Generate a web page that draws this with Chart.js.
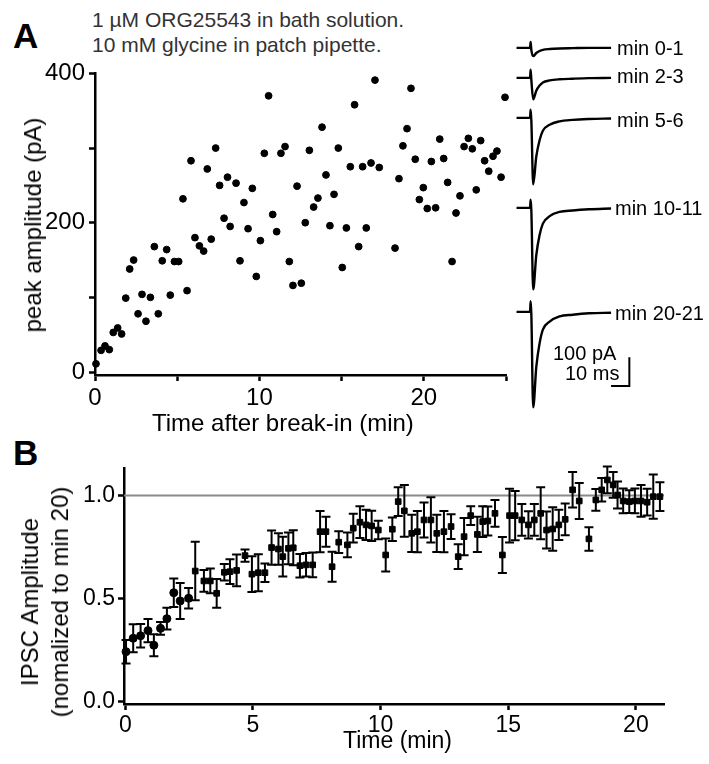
<!DOCTYPE html>
<html>
<head>
<meta charset="utf-8">
<script src="https://cdn.jsdelivr.net/npm/chart.js@4.4.0/dist/chart.umd.min.js"></script>
<style>
  body { margin: 0; background: #fff; }
  #fig { position: relative; width: 709px; height: 764px; overflow: hidden;
         font-family: 'Liberation Sans', Arial, Helvetica, sans-serif; color: #000; }
  #fig canvas { position: absolute; }
  .t { position: absolute; white-space: nowrap; line-height: 1; }
  .rot { position: absolute; white-space: nowrap; text-align: center;
         transform: translate(-50%, -50%) rotate(-90deg); }
</style>
</head>
<body>
<div id="fig">
  <div class="t" style="left:13px;top:18px;font-size:35px;font-weight:bold;">A</div>
  <div class="t" style="left:13px;top:435px;font-size:35px;font-weight:bold;">B</div>
  <div class="t" style="left:92px;top:9px;font-size:21px;color:#333;">1 µM ORG25543 in bath solution.</div>
  <div class="t" style="left:92px;top:34px;font-size:21px;color:#333;">10 mM glycine in patch pipette.</div>

  <canvas id="chartA" width="530" height="390" style="left:0;top:55px;"></canvas>
  <div class="rot" style="left:33px;top:225px;font-size:24px;line-height:28px;">peak amplitude (pA)</div>
  <div class="t" style="left:152px;top:411px;font-size:24px;">Time after break-in (min)</div>

  <canvas id="tr0" width="117" height="113" style="left:516px;top:35px;"></canvas>
  <canvas id="tr1" width="117" height="113" style="left:516px;top:65px;"></canvas>
  <canvas id="tr2" width="117" height="113" style="left:516px;top:105px;"></canvas>
  <canvas id="tr3" width="117" height="113" style="left:516px;top:195px;"></canvas>
  <canvas id="tr4" width="117" height="113" style="left:516px;top:299px;"></canvas>
  <div class="t" style="left:617px;top:38px;font-size:20px;">min 0-1</div>
  <div class="t" style="left:617px;top:66px;font-size:20px;">min 2-3</div>
  <div class="t" style="left:617px;top:110px;font-size:20px;">min 5-6</div>
  <div class="t" style="left:615px;top:198px;font-size:20px;">min 10-11</div>
  <div class="t" style="left:615px;top:303px;font-size:20px;">min 20-21</div>
  <div class="t" style="left:553px;top:343px;font-size:20px;">100 pA</div>
  <div class="t" style="left:565px;top:363px;font-size:20px;">10 ms</div>

  <canvas id="chartB" width="690" height="314" style="left:0;top:450px;"></canvas>
  <div class="rot" style="left:45px;top:602px;font-size:24px;line-height:30px;">IPSC Amplitude<br>(nomalized to min 20)</div>
  <div class="t" style="left:343px;top:729px;font-size:23px;">Time (min)</div>
</div>

<script>
// panel A: peak amplitude of each IPSC (pA) against time after break-in (min)
const aTime = [0.06, 0.37, 0.61, 0.87, 1.11, 1.38, 1.62, 1.87, 2.11, 2.35, 2.62, 2.86, 3.10, 3.37, 3.61, 3.85,
  4.09, 4.36, 4.58, 4.83, 5.09, 5.35, 5.60, 5.84, 6.08, 6.35, 6.61, 6.83, 7.07, 7.34, 7.58, 7.85, 8.06, 8.22,
  8.58, 8.82, 9.06, 9.31, 9.57, 9.81, 10.06, 10.30, 10.56, 10.81, 11.05, 11.31, 11.56, 11.82, 12.04, 12.29,
  12.55, 12.79, 13.04, 13.30, 13.56, 13.81, 14.05, 14.29, 14.54, 14.80, 15.04, 15.29, 15.53, 15.79, 16.04,
  16.28, 16.50, 16.79, 17.03, 17.29, 18.25, 18.49, 18.73, 18.98, 19.22, 19.48, 19.73, 19.97, 20.21, 20.46,
  20.72, 20.97, 21.21, 21.45, 21.72, 21.96, 22.20, 22.45, 22.71, 22.95, 23.19, 23.46, 23.70, 23.95, 24.21,
  24.45, 24.70, 24.94];
const aAmp = [11, 29, 35, 30, 53, 59, 51, 99, 138, 150, 78, 104, 68, 100, 168, 78,
  149, 164, 103, 148, 148, 232, 109, 283, 180, 169, 162, 272, 178, 300, 250, 206, 261, 195,
  253, 149, 227, 192, 246, 128, 176, 293, 370, 211, 188, 293, 302, 148, 116, 249,
  119, 200, 297, 221, 233, 328, 264, 196, 238, 300, 140, 193, 275, 358, 168,
  275, 193, 280, 391, 274, 166, 259, 303, 326, 380, 285, 231, 247, 219, 282,
  220, 312, 286, 254, 148, 213, 236, 302, 313, 299, 244, 310, 283, 269, 289,
  296, 261, 368];
const aXTicks = [0, 5, 10, 15, 20, 25];
const aYTicks = [0, 100, 200, 300, 400];

// example currents (ms from stimulus, pA)
const traceTime = [-7.7, -0.3, 0, 0.4, 1.4, 3.1, 4.9, 6.7, 10.4, 15.8, 23, 32, 44];
const traceMin0 = [0, 0, 21, -8, -29, -18, -11, -7, -4, -2, -1, 0, 0];
const traceMin2 = [0, 0, 29, -8, -75, -45, -27, -16, -9, -5, -3, -1, 0];
const traceMin5 = [0, 0, 29, -10, -232, -135, -78, -45, -24, -12, -7, -4, -2];
const traceMin10 = [0, 0, 29, -10, -285, -165, -95, -55, -29, -14, -9, -5, -2];
const traceMin20 = [0, 0, 37, -10, -334, -192, -110, -62, -34, -16, -10, -5, -3];
const scaleBarMs = 10;
const scaleBarPA = 100;

// panel B: normalised IPSC amplitude, mean and error
const bTime = [0.03, 0.31, 0.60, 0.89, 1.12, 1.38, 1.63, 1.90, 2.15, 2.48, 2.74, 3.08, 3.33, 3.58, 3.88, 4.10,
  4.36, 4.69, 4.96, 5.21, 5.47, 5.73, 6.00, 6.17, 6.39, 6.58, 6.84, 7.08, 7.34, 7.63, 7.86, 8.10, 8.36, 8.70,
  8.93, 9.19, 9.43, 9.65, 9.91, 10.20, 10.46, 10.69, 10.93, 11.22, 11.44, 11.70, 11.97, 12.20, 12.48, 12.76,
  13.04, 13.27, 13.53, 13.79, 14.00, 14.20, 14.48, 14.77, 15.05, 15.27, 15.53, 15.79, 16.02, 16.27, 16.50,
  16.74, 16.98, 17.23, 17.52, 17.78, 18.16, 18.43, 18.66, 18.88, 19.11, 19.28, 19.50, 19.74, 19.96, 20.20,
  20.44, 20.68, 20.94];
const bMean = [0.243, 0.308, 0.320, 0.345, 0.274, 0.356, 0.403, 0.529, 0.489, 0.502, 0.634, 0.586, 0.586, 0.526,
  0.628, 0.631, 0.637, 0.709, 0.619, 0.626, 0.626, 0.748, 0.741, 0.704, 0.744, 0.747, 0.660, 0.664, 0.664,
  0.825, 0.825, 0.655, 0.774, 0.761, 0.842, 0.871, 0.858, 0.853, 0.833, 0.712, 0.837, 0.971, 0.926, 0.817,
  0.825, 0.882, 0.882, 0.817, 0.825, 0.850, 0.704, 0.801, 0.903, 0.812, 0.874, 0.877, 0.914, 0.712, 0.903,
  0.903, 0.882, 0.858, 0.882, 0.914, 0.833, 0.838, 0.858, 0.885, 1.028, 0.974, 0.790, 0.979, 1.028, 1.076,
  1.052, 1.003, 0.974, 0.971, 0.974, 0.974, 0.968, 0.995, 0.995];
const bErr = [0.057, 0.068, 0.057, 0.057, 0.053, 0.031, 0.053, 0.069, 0.087, 0.050, 0.142, 0.053, 0.060, 0.070,
  0.040, 0.060, 0.077, 0.030, 0.087, 0.090, 0.045, 0.083, 0.077, 0.097, 0.077, 0.085, 0.057, 0.057, 0.060,
  0.100, 0.073, 0.073, 0.053, 0.060, 0.070, 0.077, 0.073, 0.073, 0.045, 0.080, 0.057, 0.070, 0.125, 0.090,
  0.100, 0.085, 0.110, 0.090, 0.100, 0.060, 0.060, 0.090, 0.045, 0.085, 0.075, 0.070, 0.065, 0.087, 0.130,
  0.120, 0.077, 0.066, 0.077, 0.126, 0.090, 0.105, 0.073, 0.077, 0.086, 0.087, 0.057, 0.053, 0.057, 0.065,
  0.062, 0.065, 0.060, 0.055, 0.060, 0.077, 0.065, 0.107, 0.070];
const bXTicks = [0, 5, 10, 15, 20];
const bYTicks = [0, 0.5, 1.0];
const refLevel = 1.0;

Chart.defaults.font.family = "'Liberation Sans', Arial, Helvetica, sans-serif";
Chart.defaults.color = '#000';

function axis(tickVals, fontSize, pad, size, isX, label) {
  return {
    type: 'linear',
    afterBuildTicks: s => { s.ticks = tickVals.map(v => ({ value: v })); },
    afterFit: s => { if (isX) s.height = size; else s.width = size; },
    ticks: { callback: label, font: { size: fontSize }, color: '#000', padding: pad, maxRotation: 0, autoSkip: false },
    grid: { drawOnChartArea: false, drawTicks: true, tickLength: 6, tickWidth: 2.5, tickColor: '#000' },
    border: { display: true, color: '#000', width: 2.5 }
  };
}

// panel A
const xA = axis(aXTicks, 24, 3, 70, true, v => (v % 10 === 0 ? v : ''));
xA.min = 0; xA.max = 25;
const yA = axis(aYTicks, 24, 4, 95, false, v => (v % 200 === 0 ? v : ''));
yA.min = -4; yA.max = 400;

new Chart(document.getElementById('chartA'), {
  type: 'scatter',
  data: {
    datasets: [{
      data: aTime.map((t, i) => ({ x: t, y: aAmp[i] })),
      backgroundColor: '#000', borderColor: '#000',
      pointRadius: 3.4, pointHoverRadius: 3.4, clip: false
    }]
  },
  options: {
    responsive: false, animation: false, events: [],
    layout: { padding: { top: 17, right: 24, left: 0, bottom: 0 } },
    plugins: { legend: { display: false }, tooltip: { enabled: false } },
    scales: { x: xA, y: yA }
  }
});

// example traces
const scaleBar = {
  id: 'scaleBar',
  afterDatasetsDraw(chart, args, opts) {
    if (!opts.show) return;
    const { ctx, scales: { x, y } } = chart;
    const x1 = x.getPixelForValue(opts.atMs), y1 = y.getPixelForValue(opts.atPA);
    const x0 = x.getPixelForValue(opts.atMs - scaleBarMs);
    const y0 = y.getPixelForValue(opts.atPA + scaleBarPA);
    ctx.save();
    ctx.strokeStyle = '#000';
    ctx.lineWidth = 2;
    ctx.beginPath();
    ctx.moveTo(x0, y1); ctx.lineTo(x1, y1); ctx.lineTo(x1, y0);
    ctx.stroke();
    ctx.restore();
  }
};

const traces = [traceMin0, traceMin2, traceMin5, traceMin10, traceMin20];
traces.forEach((vals, k) => {
  new Chart(document.getElementById('tr' + k), {
    type: 'line',
    data: {
      datasets: [{
        data: traceTime.map((t, i) => ({ x: t, y: vals[i] })),
        borderColor: '#000', borderWidth: 2.4, pointRadius: 0,
        cubicInterpolationMode: 'monotone', clip: false
      }]
    },
    options: {
      responsive: false, animation: false, events: [],
      layout: { padding: 0 },
      plugins: { legend: { display: false }, tooltip: { enabled: false },
                 scaleBar: { show: k === 4, atMs: 54, atPA: -259 } },
      scales: {
        x: { type: 'linear', display: false, min: -8, max: 56 },
        y: { display: false, min: -350, max: 45 }
      }
    },
    plugins: [scaleBar]
  });
});

// panel B
const refLine = {
  id: 'refLine',
  beforeDatasetsDraw(chart) {
    const { ctx, chartArea, scales: { y } } = chart;
    const py = y.getPixelForValue(refLevel);
    ctx.save();
    ctx.strokeStyle = '#8a8a8a';
    ctx.lineWidth = 2;
    ctx.beginPath();
    ctx.moveTo(chartArea.left, py); ctx.lineTo(chartArea.right, py);
    ctx.stroke();
    ctx.restore();
  }
};

const errorBars = {
  id: 'errorBars',
  beforeDatasetsDraw(chart) {
    const { ctx, scales: { y } } = chart;
    const meta = chart.getDatasetMeta(0);
    ctx.save();
    ctx.strokeStyle = '#000';
    ctx.lineWidth = 2;
    meta.data.forEach((pt, i) => {
      const top = y.getPixelForValue(bMean[i] + bErr[i]);
      const bot = y.getPixelForValue(bMean[i] - bErr[i]);
      ctx.beginPath();
      ctx.moveTo(pt.x, top); ctx.lineTo(pt.x, bot);
      ctx.moveTo(pt.x - 4.5, top); ctx.lineTo(pt.x + 4.5, top);
      ctx.moveTo(pt.x - 4.5, bot); ctx.lineTo(pt.x + 4.5, bot);
      ctx.stroke();
    });
    ctx.restore();
  }
};

const xB = axis(bXTicks, 23, 2, 60, true, v => v);
xB.min = -0.05; xB.max = 21.1;
const yB = axis(bYTicks, 23, 3, 124, false, v => v.toFixed(1));
yB.min = -0.011; yB.max = 1.134;

new Chart(document.getElementById('chartB'), {
  type: 'scatter',
  data: {
    datasets: [{
      data: bTime.map((t, i) => ({ x: t, y: bMean[i] })),
      backgroundColor: '#000', borderColor: '#000',
      pointStyle: bTime.map(t => (t < 2.6 ? 'circle' : 'rect')),
      pointRadius: 4, pointHoverRadius: 4, clip: false
    }]
  },
  options: {
    responsive: false, animation: false, events: [],
    layout: { padding: { top: 18, right: 26, left: 0, bottom: 0 } },
    plugins: { legend: { display: false }, tooltip: { enabled: false } },
    scales: { x: xB, y: yB }
  },
  plugins: [refLine, errorBars]
});
</script>
</body>
</html>
